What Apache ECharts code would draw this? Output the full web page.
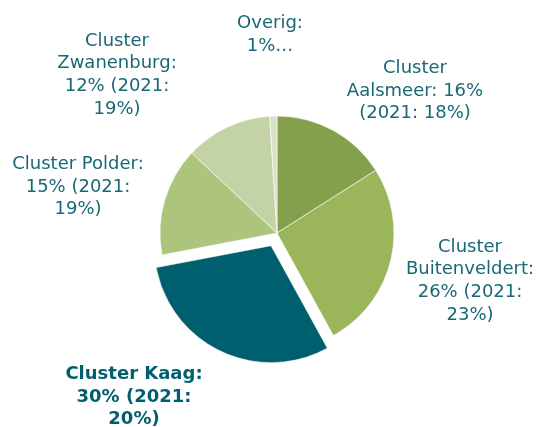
<!DOCTYPE html>
<html>
<head>
<meta charset="utf-8">
<script src="https://cdn.jsdelivr.net/npm/echarts@6/dist/echarts.min.js"></script>
<style>
  html, body { margin: 0; padding: 0; background: #fff; }
  #chart { width: 538px; height: 427px; }
</style>
</head>
<body>
<div id="chart"></div>
<script>
var clusters = ['Cluster Aalsmeer', 'Cluster Buitenveldert', 'Cluster Kaag', 'Cluster Polder', 'Cluster Zwanenburg', 'Overig'];
var shares = [16, 26, 30, 15, 12, 1];
var labelTexts = [
  'Cluster\nAalsmeer: 16%\n(2021: 18%)',
  'Cluster\nBuitenveldert:\n26% (2021:\n23%)',
  'Cluster Kaag:\n30% (2021:\n20%)',
  'Cluster Polder:\n15% (2021:\n19%)',
  'Cluster\nZwanenburg:\n12% (2021:\n19%)',
  'Overig:\n1%…'
];
var colors = ['#85a04c', '#9ab55a', '#005f6e', '#acc47c', '#c3d3a5', '#d8e2c8'];
// label centres (px)
var labelPos = [[415, 91], [470, 281], [134, 397], [78, 187], [117, 75], [270, 35]];

var chart = echarts.init(document.getElementById('chart'));

var pieData = clusters.map(function (name, i) {
  var d = { name: name, value: shares[i], itemStyle: { color: colors[i] } };
  if (i === 2) d.selected = true;
  return d;
});

// second, invisible pie only carries the labels
var labelData = clusters.map(function (name, i) {
  var d = { name: name, value: shares[i] };
  if (i === 2) d.label = { fontWeight: 'bold', color: '#005f6e' };
  return d;
});

var option = {
  backgroundColor: '#fff',
  animation: false,
  series: [{
    type: 'pie',
    center: [277, 233],
    radius: [0, 117],
    startAngle: 90,
    clockwise: true,
    selectedMode: 'single',
    selectedOffset: 14,
    itemStyle: { borderColor: '#fff', borderWidth: 0.6 },
    label: { show: false },
    labelLine: { show: false },
    emphasis: { disabled: true },
    data: pieData
  }, {
    type: 'pie',
    silent: true,
    center: [277, 233],
    radius: [0, 117],
    startAngle: 90,
    clockwise: true,
    itemStyle: { color: 'rgba(0,0,0,0)' },
    label: {
      show: true,
      position: 'inside',
      fontFamily: 'DejaVu Sans',
      fontSize: 18,
      lineHeight: 22.7,
      color: '#196875',
      align: 'center',
      overflow: 'none',
      formatter: function (p) { return labelTexts[p.dataIndex]; }
    },
    labelLine: { show: false },
    labelLayout: function (p) {
      var pos = labelPos[p.dataIndex];
      return { x: pos[0], y: pos[1], align: 'center', verticalAlign: 'middle', hideOverlap: false };
    },
    emphasis: { disabled: true },
    data: labelData
  }]
};

chart.setOption(option);
</script>
</body>
</html>
